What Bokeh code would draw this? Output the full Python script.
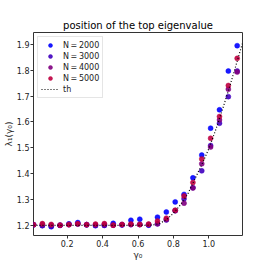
from bokeh.plotting import figure
from bokeh.models import Range1d, FixedTicker, Legend, LegendItem, NumeralTickFormatter
from bokeh.embed import file_html
from bokeh.resources import INLINE

gamma0 = [0.01, 0.06, 0.11, 0.16, 0.21, 0.26, 0.31, 0.36, 0.41, 0.46, 0.51, 0.56,
          0.61, 0.66, 0.71, 0.76, 0.81, 0.86, 0.91, 0.96, 1.01, 1.06, 1.11, 1.16]

lam_N2000 = [1.203, 1.200, 1.195, 1.200, 1.206, 1.211, 1.203, 1.199, 1.201, 1.208, 1.202, 1.220,
             1.224, 1.201, 1.232, 1.252, 1.291, 1.320, 1.384, 1.472, 1.576, 1.647, 1.797, 1.895]
lam_N3000 = [1.202, 1.199, 1.197, 1.201, 1.203, 1.205, 1.202, 1.201, 1.200, 1.202, 1.203, 1.203,
             1.204, 1.202, 1.206, 1.221, 1.257, 1.303, 1.346, 1.411, 1.509, 1.595, 1.698, 1.797]
lam_N4000 = [1.203, 1.204, 1.202, 1.201, 1.204, 1.206, 1.203, 1.202, 1.204, 1.201, 1.203, 1.204,
             1.203, 1.204, 1.206, 1.223, 1.257, 1.286, 1.345, 1.438, 1.503, 1.608, 1.727, 1.793]
lam_N5000 = [1.203, 1.207, 1.204, 1.201, 1.203, 1.206, 1.203, 1.205, 1.207, 1.201, 1.204, 1.205,
             1.204, 1.205, 1.217, 1.228, 1.259, 1.314, 1.366, 1.457, 1.537, 1.621, 1.741, 1.846]

th_x = [0.01, 0.60, 0.68, 0.72, 0.76, 0.80, 0.84, 0.88, 0.92, 0.96, 1.00, 1.04, 1.08, 1.12, 1.16, 1.19]
th_y = [1.200, 1.200, 1.201, 1.207, 1.222, 1.247, 1.280, 1.320, 1.378, 1.435, 1.497, 1.572,
        1.655, 1.742, 1.835, 1.905]

series = [("N\u2009=\u20092000", lam_N2000, "#0000ff"),
          ("N\u2009=\u20093000", lam_N3000, "#4000bf"),
          ("N\u2009=\u20094000", lam_N4000, "#800080"),
          ("N\u2009=\u20095000", lam_N5000, "#bf0040")]

x_ticks = [0.2, 0.4, 0.6, 0.8, 1.0]
y_ticks = [1.2, 1.3, 1.4, 1.5, 1.6, 1.7, 1.8, 1.9]

FONT = "DejaVu Sans"

p = figure(frame_width=209, frame_height=203, output_backend="svg", toolbar_location=None,
           x_range=Range1d(0.01, 1.19), y_range=Range1d(1.161, 1.946),
           title="position of the top eigenvalue",
           min_border_left=32, min_border_right=19, min_border_top=32, min_border_bottom=24)

p.title.align = "center"
p.title.text_font = FONT
p.title.text_font_size = "10px"
p.title.text_font_style = "normal"
p.title.text_color = "#000000"
p.title.standoff = 3

p.xgrid.visible = False
p.ygrid.visible = False
p.outline_line_color = "#333333"
p.outline_line_width = 1
p.background_fill_color = "white"
p.border_fill_color = "white"

for ax in (p.xaxis[0], p.yaxis[0]):
    ax.axis_line_color = None
    ax.major_tick_out = 3
    ax.major_tick_in = 0
    ax.minor_tick_out = 0
    ax.minor_tick_in = 0
    ax.major_tick_line_color = "#333333"
    ax.major_label_text_font = FONT
    ax.major_label_text_font_size = "8px"
    ax.major_label_text_color = "#222222"
    ax.axis_label_text_font = FONT
    ax.axis_label_text_font_size = "9px"
    ax.axis_label_text_font_style = "normal"
    ax.axis_label_text_color = "#222222"
    ax.major_label_standoff = 1
    ax.axis_label_standoff = 0
    ax.formatter = NumeralTickFormatter(format="0.0")

p.xaxis[0].ticker = FixedTicker(ticks=x_ticks)
p.yaxis[0].ticker = FixedTicker(ticks=y_ticks)
p.xaxis[0].axis_label = "γ₀"
p.yaxis[0].axis_label = "λ₁(γ₀)"

items = []
for label, vals, col in series:
    r = p.scatter(gamma0, vals, size=5, fill_color=col, line_color=col, line_width=0.5,
                  fill_alpha=0.9, line_alpha=0.9)
    items.append(LegendItem(label=label, renderers=[r]))

rl = p.line(th_x, th_y, line_color="black", line_width=1.2, line_dash="1 2")
items.append(LegendItem(label="th", renderers=[rl]))

legend = Legend(items=items, location="top_left")
legend.label_text_font = FONT
legend.label_text_font_size = "8px"
legend.label_text_color = "#222222"
legend.label_height = 10
legend.glyph_height = 10
legend.glyph_width = 18
legend.spacing = 1
legend.padding = 3
legend.margin = 4
legend.label_standoff = 4
legend.border_line_color = "#cccccc"
legend.border_line_width = 1
legend.background_fill_alpha = 0.9
p.add_layout(legend)

open("out.html", "w").write(file_html(p, INLINE))
